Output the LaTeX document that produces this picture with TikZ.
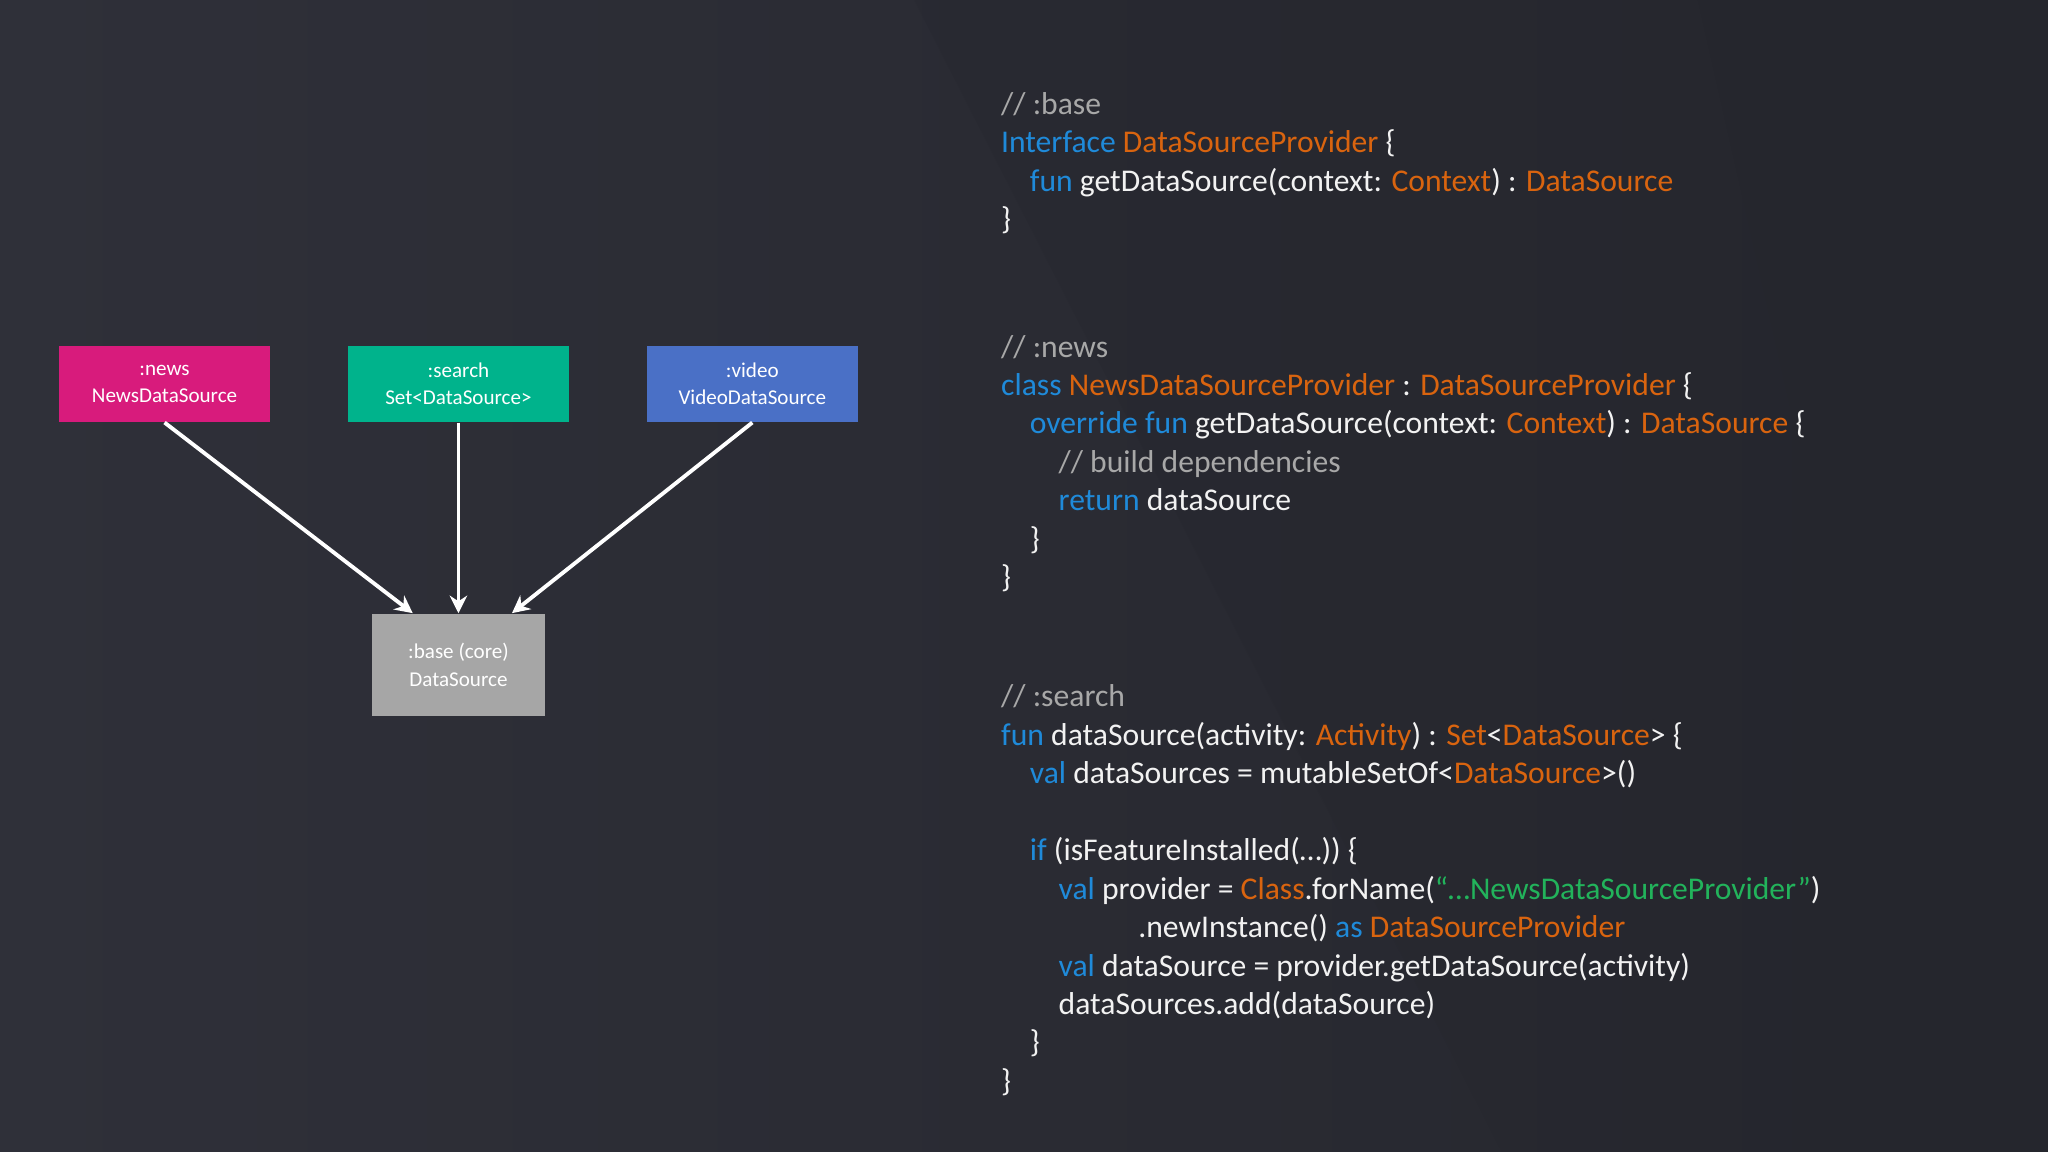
\documentclass[tikz,border=0pt]{standalone}
\usepackage{fontspec}
\setmainfont{Carlito}
\usetikzlibrary{arrows.meta}
\definecolor{bg}{HTML}{25262D}
\definecolor{bgl}{HTML}{2F3039}
\definecolor{kwc}{HTML}{1F8AD9}
\definecolor{tyc}{HTML}{D9640F}
\definecolor{cmc}{HTML}{A8A8A8}
\definecolor{stc}{HTML}{22B35B}
\definecolor{txc}{HTML}{F2F2F2}
\definecolor{newsc}{HTML}{D81B7C}
\definecolor{searchc}{HTML}{00B38C}
\definecolor{videoc}{HTML}{4A70C6}
\definecolor{basec}{HTML}{A6A6A6}
\newcommand\kwd[1]{\textcolor{kwc}{#1}}
\newcommand\tyc[1]{\textcolor{tyc}{#1}}
\newcommand\cmt[1]{\textcolor{cmc}{#1}}
\newcommand\strg[1]{\textcolor{stc}{#1}}
\begin{document}
\begin{tikzpicture}[x=0.01306cm,y=-0.01306cm,
  code/.style={anchor=west,inner sep=0pt,text=txc,font=\fontsize{9}{11}\selectfont},
  box/.style={inner sep=0pt,text=white,align=center,font=\fontsize{6}{7.8}\selectfont},
  conn/.style={draw=white,line width=1.1pt,-{Stealth[length=5pt,width=5pt]}}]
\useasboundingbox (0,0) rectangle (1568,882);
\fill[left color=bgl,right color=bg] (0,0) rectangle (1568,882);
\fill[bg,opacity=0.25] (700,0) -- (1568,0) -- (1568,882) -- (1150,882) -- cycle;
\fill[bg,opacity=0.3] (1300,0) -- (1568,0) -- (1568,882) -- (1500,882) -- cycle;
% boxes
\node[box,fill=newsc,minimum width=2.116cm,minimum height=0.757cm] (news) at (126,294) {:news\\NewsDataSource};
\node[box,fill=searchc,minimum width=2.207cm,minimum height=0.757cm] (search) at (351,294) {:search\\Set<DataSource>};
\node[box,fill=videoc,minimum width=2.116cm,minimum height=0.757cm] (video) at (576,294) {:video\\VideoDataSource};
\node[box,fill=basec,minimum width=1.737cm,minimum height=1.019cm] (base) at (351,509) {:base (core)\\DataSource};
\draw[conn] (news.south) -- ([xshift=-0.457cm]base.north);
\draw[conn] (search.south) -- (base.north);
\draw[conn] (video.south) -- ([xshift=0.535cm]base.north);
% code
\begin{scope}[shift={(0,3)}]
\node[code] (l1) at (766,79) {\strut\cmt{// :base}};
\node[code] (l2) at (766,108) {\strut\kwd{Interface} \tyc{DataSourceProvider} \{};
\node[code] (l3) at (788,138) {\strut\kwd{fun} getDataSource(context: \tyc{Context}) : \tyc{DataSource}};
\node[code] (l4) at (766,167) {\strut\}};
\node[code] (l5) at (766,265) {\strut\cmt{// :news}};
\node[code] (l6) at (766,294) {\strut\kwd{class} \tyc{NewsDataSourceProvider} : \tyc{DataSourceProvider} \{};
\node[code] (l7) at (788,323) {\strut\kwd{override fun} getDataSource(context: \tyc{Context}) : \tyc{DataSource} \{};
\node[code] (l8) at (810,353) {\strut\cmt{// build dependencies}};
\node[code] (l9) at (810,382) {\strut\kwd{return} dataSource};
\node[code] (l10) at (788,412) {\strut\}};
\node[code] (l11) at (766,441) {\strut\}};
\node[code] (l12) at (766,532) {\strut\cmt{// :search}};
\node[code] (l13) at (766,562) {\strut\kwd{fun} dataSource(activity: \tyc{Activity}) : \tyc{Set}<\tyc{DataSource}> \{};
\node[code] (l14) at (788,591) {\strut\kwd{val} dataSources = mutableSetOf<\tyc{DataSource}>()};
\node[code] (l15) at (788,650) {\strut\kwd{if} (isFeatureInstalled(…)) \{};
\node[code] (l16) at (810,680) {\strut\kwd{val} provider = \tyc{Class}.forName(\strg{“…NewsDataSourceProvider”})};
\node[code] (l17) at (871,709) {\strut.newInstance() \kwd{as} \tyc{DataSourceProvider}};
\node[code] (l18) at (810,739) {\strut\kwd{val} dataSource = provider.getDataSource(activity)};
\node[code] (l19) at (810,768) {\strut dataSources.add(dataSource)};
\node[code] (l20) at (788,797) {\strut\}};
\node[code] (l21) at (766,827) {\strut\}};
\end{scope}
\end{tikzpicture}
\end{document}
